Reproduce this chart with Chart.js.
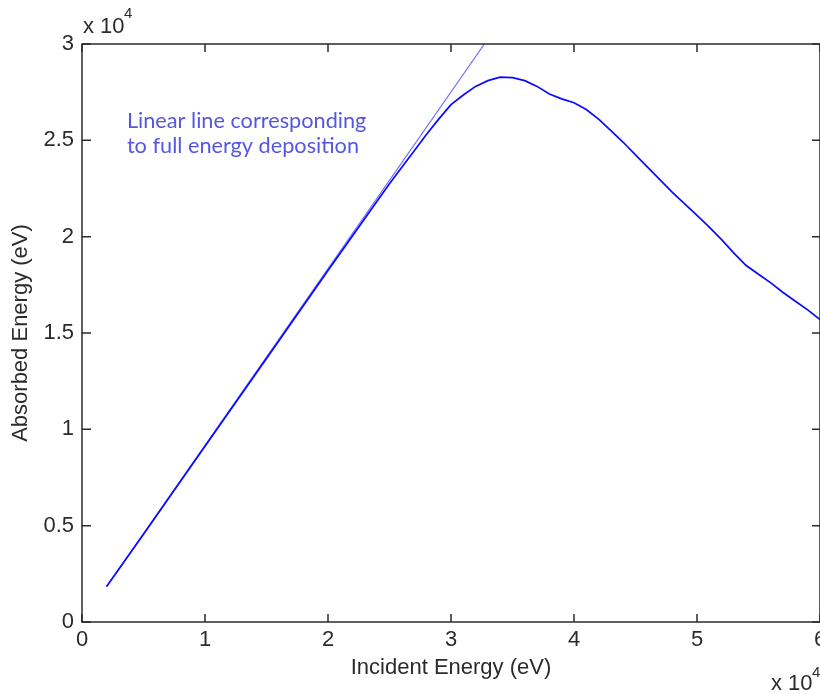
<!DOCTYPE html>
<html>
<head>
<meta charset="utf-8">
<script src="https://cdn.jsdelivr.net/npm/chart.js@4"></script>
<style>
  html, body { margin: 0; padding: 0; background: #fff; }
  canvas { display: block; }
</style>
</head>
<body>
<canvas id="chart" width="820" height="694"></canvas>
<script>
// data (eV)
const incidentEnergy = [2000, 5000, 10000, 15000, 20000, 22000, 24000, 25000, 26000, 27000, 28000, 29000, 30000,
  31000, 32000, 33000, 34000, 35000, 36000, 37000, 38000, 39000, 40000, 41000, 42000, 43000, 44000, 45000,
  46000, 47000, 48000, 49000, 50000, 51000, 52000, 53000, 54000, 55000, 56000, 57000, 58000, 59000, 60000];
const absorbedEnergy = [1840, 4560, 9120, 13680, 18240, 20050, 21850, 22750, 23600, 24450, 25300, 26100, 26850,
  27350, 27800, 28100, 28280, 28250, 28100, 27800, 27400, 27150, 26950, 26600, 26100, 25500, 24900, 24250,
  23600, 22950, 22300, 21700, 21100, 20500, 19850, 19150, 18500, 18050, 17600, 17100, 16650, 16200, 15700];
const linearX = [2000, 35000];
const linearY = [1834, 32095];
const xTicks = [0, 10000, 20000, 30000, 40000, 50000, 60000];
const yTicks = [0, 5000, 10000, 15000, 20000, 25000, 30000];
const noteLines = ['Linear line corresponding', 'to full energy deposition'];

const AXIS = '#2b2b2b';
const TICK_FONT = { family: '"Liberation Sans", Arial, sans-serif', size: 22 };

// frame, inward ticks on all four sides, exponent labels and the note
const framePlugin = {
  id: 'frame',
  afterDraw(chart) {
    const { ctx, chartArea: a, scales: { x, y } } = chart;
    ctx.save();
    ctx.strokeStyle = AXIS;
    ctx.lineWidth = 1.5;
    ctx.strokeRect(a.left, a.top, a.right - a.left, a.bottom - a.top);
    ctx.beginPath();
    x.ticks.forEach(t => {
      const px = x.getPixelForValue(t.value);
      ctx.moveTo(px, a.bottom); ctx.lineTo(px, a.bottom - 8);
      ctx.moveTo(px, a.top); ctx.lineTo(px, a.top + 8);
    });
    y.ticks.forEach(t => {
      const py = y.getPixelForValue(t.value);
      ctx.moveTo(a.left, py); ctx.lineTo(a.left + 9, py);
      ctx.moveTo(a.right, py); ctx.lineTo(a.right - 8, py);
    });
    ctx.stroke();

    // x 10^4 multipliers
    ctx.fillStyle = AXIS;
    ctx.textBaseline = 'alphabetic';
    ctx.textAlign = 'left';
    ctx.font = '22px "Liberation Sans", Arial, sans-serif';
    ctx.fillText('x 10', a.left + 1, a.top - 11);
    ctx.fillText('x 10', a.right - 49, chart.height - 4);
    ctx.font = '15px "Liberation Sans", Arial, sans-serif';
    ctx.fillText('4', a.left + 42, a.top - 26);
    ctx.fillText('4', a.right - 8, chart.height - 17);

    // annotation
    ctx.font = '20px Lato, "Open Sans", sans-serif';
    const w = ctx.measureText(noteLines[0]).width;
    const size = 20 * 240 / w;
    ctx.font = size.toFixed(1) + 'px Lato, "Open Sans", sans-serif';
    ctx.fillStyle = '#5656e2';
    const nx = x.getPixelForValue(3650);
    ctx.fillText(noteLines[0], nx, y.getPixelForValue(25660));
    ctx.fillText(noteLines[1], nx, y.getPixelForValue(24360));
    ctx.restore();
  }
};

new Chart(document.getElementById('chart'), {
  type: 'scatter',
  data: {
    datasets: [
      {
        label: 'Absorbed',
        data: incidentEnergy.map((v, i) => ({ x: v, y: absorbedEnergy[i] })),
        showLine: true,
        borderColor: '#0a0aff',
        borderWidth: 1.7,
        pointRadius: 0,
        tension: 0
      },
      {
        label: 'Linear',
        data: linearX.map((v, i) => ({ x: v, y: linearY[i] })),
        showLine: true,
        borderColor: '#6b6bff',
        borderWidth: 1.1,
        pointRadius: 0
      }
    ]
  },
  options: {
    responsive: false,
    animation: false,
    layout: { padding: { top: 44, right: 0, left: 0, bottom: 0 } },
    plugins: { legend: { display: false }, tooltip: { enabled: false } },
    scales: {
      x: {
        type: 'linear',
        min: 0, max: 60000,
        afterBuildTicks: s => { s.ticks = xTicks.map(v => ({ value: v })); },
        ticks: { callback: v => String(v / 10000), font: TICK_FONT, color: AXIS, padding: 5, maxRotation: 0, autoSkip: false },
        grid: { display: false, drawTicks: false },
        border: { display: false },
        title: {
          display: true, text: 'Incident Energy (eV)', color: AXIS,
          font: { family: '"Liberation Sans", Arial, sans-serif', size: 22, lineHeight: 1 },
          padding: { top: 0, bottom: 15 }
        },
        afterFit: s => { s.height = 72; s.paddingLeft = 0; s.paddingRight = 0; }
      },
      y: {
        type: 'linear',
        min: 0, max: 30000,
        afterBuildTicks: s => { s.ticks = yTicks.map(v => ({ value: v })); },
        ticks: { callback: v => String(v / 10000), font: TICK_FONT, color: AXIS, padding: 8, autoSkip: false },
        grid: { display: false, drawTicks: false },
        border: { display: false },
        title: {
          display: true, text: 'Absorbed Energy (eV)', color: AXIS,
          font: { family: '"Liberation Sans", Arial, sans-serif', size: 22, lineHeight: 1 },
          padding: { top: 10, bottom: 0 }
        },
        afterFit: s => { s.width = 82; s.paddingTop = 0; s.paddingBottom = 0; }
      }
    }
  },
  plugins: [framePlugin]
});
</script>
</body>
</html>
